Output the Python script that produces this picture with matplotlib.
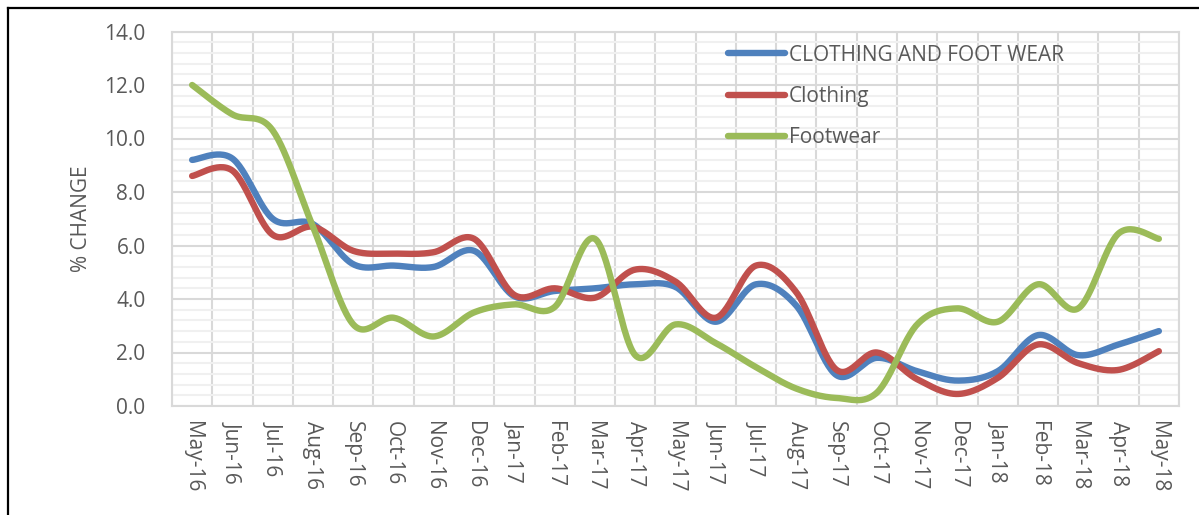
import numpy as np
import matplotlib.pyplot as plt
from matplotlib.lines import Line2D
from matplotlib.ticker import MultipleLocator

months = ['May-16', 'Jun-16', 'Jul-16', 'Aug-16', 'Sep-16', 'Oct-16', 'Nov-16', 'Dec-16',
          'Jan-17', 'Feb-17', 'Mar-17', 'Apr-17', 'May-17', 'Jun-17', 'Jul-17', 'Aug-17',
          'Sep-17', 'Oct-17', 'Nov-17', 'Dec-17', 'Jan-18', 'Feb-18', 'Mar-18', 'Apr-18', 'May-18']

clothing_footwear = [9.2, 9.25, 7.0, 6.8, 5.3, 5.25, 5.2, 5.8, 4.1, 4.3, 4.4, 4.55, 4.45,
                     3.15, 4.55, 3.75, 1.15, 1.8, 1.3, 0.95, 1.3, 2.65, 1.9, 2.3, 2.8]
clothing = [8.6, 8.8, 6.4, 6.7, 5.8, 5.7, 5.75, 6.25, 4.15, 4.4, 4.05, 5.1, 4.65,
            3.3, 5.25, 4.25, 1.35, 2.0, 1.0, 0.45, 1.05, 2.3, 1.6, 1.35, 2.05]
footwear = [12.0, 10.9, 10.3, 6.7, 3.05, 3.3, 2.6, 3.5, 3.8, 3.7, 6.25, 1.9, 3.05,
            2.35, 1.45, 0.65, 0.3, 0.5, 3.05, 3.65, 3.15, 4.55, 3.65, 6.45, 6.25]

series = [('CLOTHING AND FOOT WEAR', clothing_footwear, '#4F81BD'),
          ('Clothing', clothing, '#C0504D'),
          ('Footwear', footwear, '#9BBB59')]

plt.rcParams['font.family'] = ['Open Sans', 'DejaVu Sans']
TXT = '#595959'
FS = 15


def smooth(values, n=30):
    # Excel-style smoothed line: Catmull-Rom bezier through the points
    y = np.asarray(values, dtype=float)
    x = np.arange(len(y), dtype=float)
    last = len(y) - 1
    t = np.linspace(0, 1, n)
    xs, ys = [], []
    for i in range(last):
        a, d = max(i - 1, 0), min(i + 2, last)
        cx1 = x[i] + (x[i + 1] - x[a]) / 6
        cy1 = y[i] + (y[i + 1] - y[a]) / 6
        cx2 = x[i + 1] - (x[d] - x[i]) / 6
        cy2 = y[i + 1] - (y[d] - y[i]) / 6
        b0, b1, b2, b3 = (1 - t) ** 3, 3 * (1 - t) ** 2 * t, 3 * (1 - t) * t ** 2, t ** 3
        xs.append(b0 * x[i] + b1 * cx1 + b2 * cx2 + b3 * x[i + 1])
        ys.append(b0 * y[i] + b1 * cy1 + b2 * cy2 + b3 * y[i + 1])
    return np.concatenate(xs), np.concatenate(ys)


W, H = 1199, 515
fig = plt.figure(figsize=(W / 100, H / 100), dpi=100)
ax = fig.add_axes([172 / W, (H - 406) / H, (1179 - 172) / W, (406 - 31.5) / H])

for name, vals, col in series:
    sx, sy = smooth(vals)
    ax.plot(sx, sy, color=col, lw=4.6, solid_capstyle='round', solid_joinstyle='round', label=name)

ax.set_xlim(-0.5, len(months) - 0.5)
ax.set_ylim(0, 14)
ax.set_xticks(range(len(months)))
ax.set_xticklabels(months, rotation=270)
ax.set_xticks(np.arange(len(months) + 1) - 0.5, minor=True)
ax.yaxis.set_major_locator(MultipleLocator(2))
ax.yaxis.set_minor_locator(MultipleLocator(0.4))
ax.yaxis.set_major_formatter(lambda v, p: f'{v:.1f}')

ax.grid(which='minor', axis='y', color='#f0f0f0', lw=1.5)
ax.grid(which='major', axis='y', color='#d9d9d9', lw=1.5)
ax.grid(which='minor', axis='x', color='#d9d9d9', lw=1.5)
ax.set_axisbelow(True)
ax.tick_params(which='both', length=0)
ax.tick_params(axis='y', pad=19, labelsize=FS, colors=TXT)
ax.tick_params(axis='x', pad=11, labelsize=FS, colors=TXT)
for s in ax.spines.values():
    s.set_color('#d9d9d9')
    s.set_linewidth(1.5)

ax.set_ylabel('% CHANGE', fontsize=FS, color=TXT, labelpad=9)

leg = ax.legend(loc='upper left', bbox_to_anchor=(0.552, 0.965), frameon=False,
                fontsize=FS, handlelength=2.74, handletextpad=0.2,
                labelspacing=0.97, borderpad=0, borderaxespad=0)
for txt in leg.get_texts():
    txt.set_color(TXT)

# outer frame (left and top edges)
fig.add_artist(Line2D([8 / W, 8 / W], [0, (H - 8) / H], color='black', lw=1.6))
fig.add_artist(Line2D([8 / W, 1], [(H - 8) / H, (H - 8) / H], color='black', lw=1.6))

fig.savefig('out.png', dpi=100)
